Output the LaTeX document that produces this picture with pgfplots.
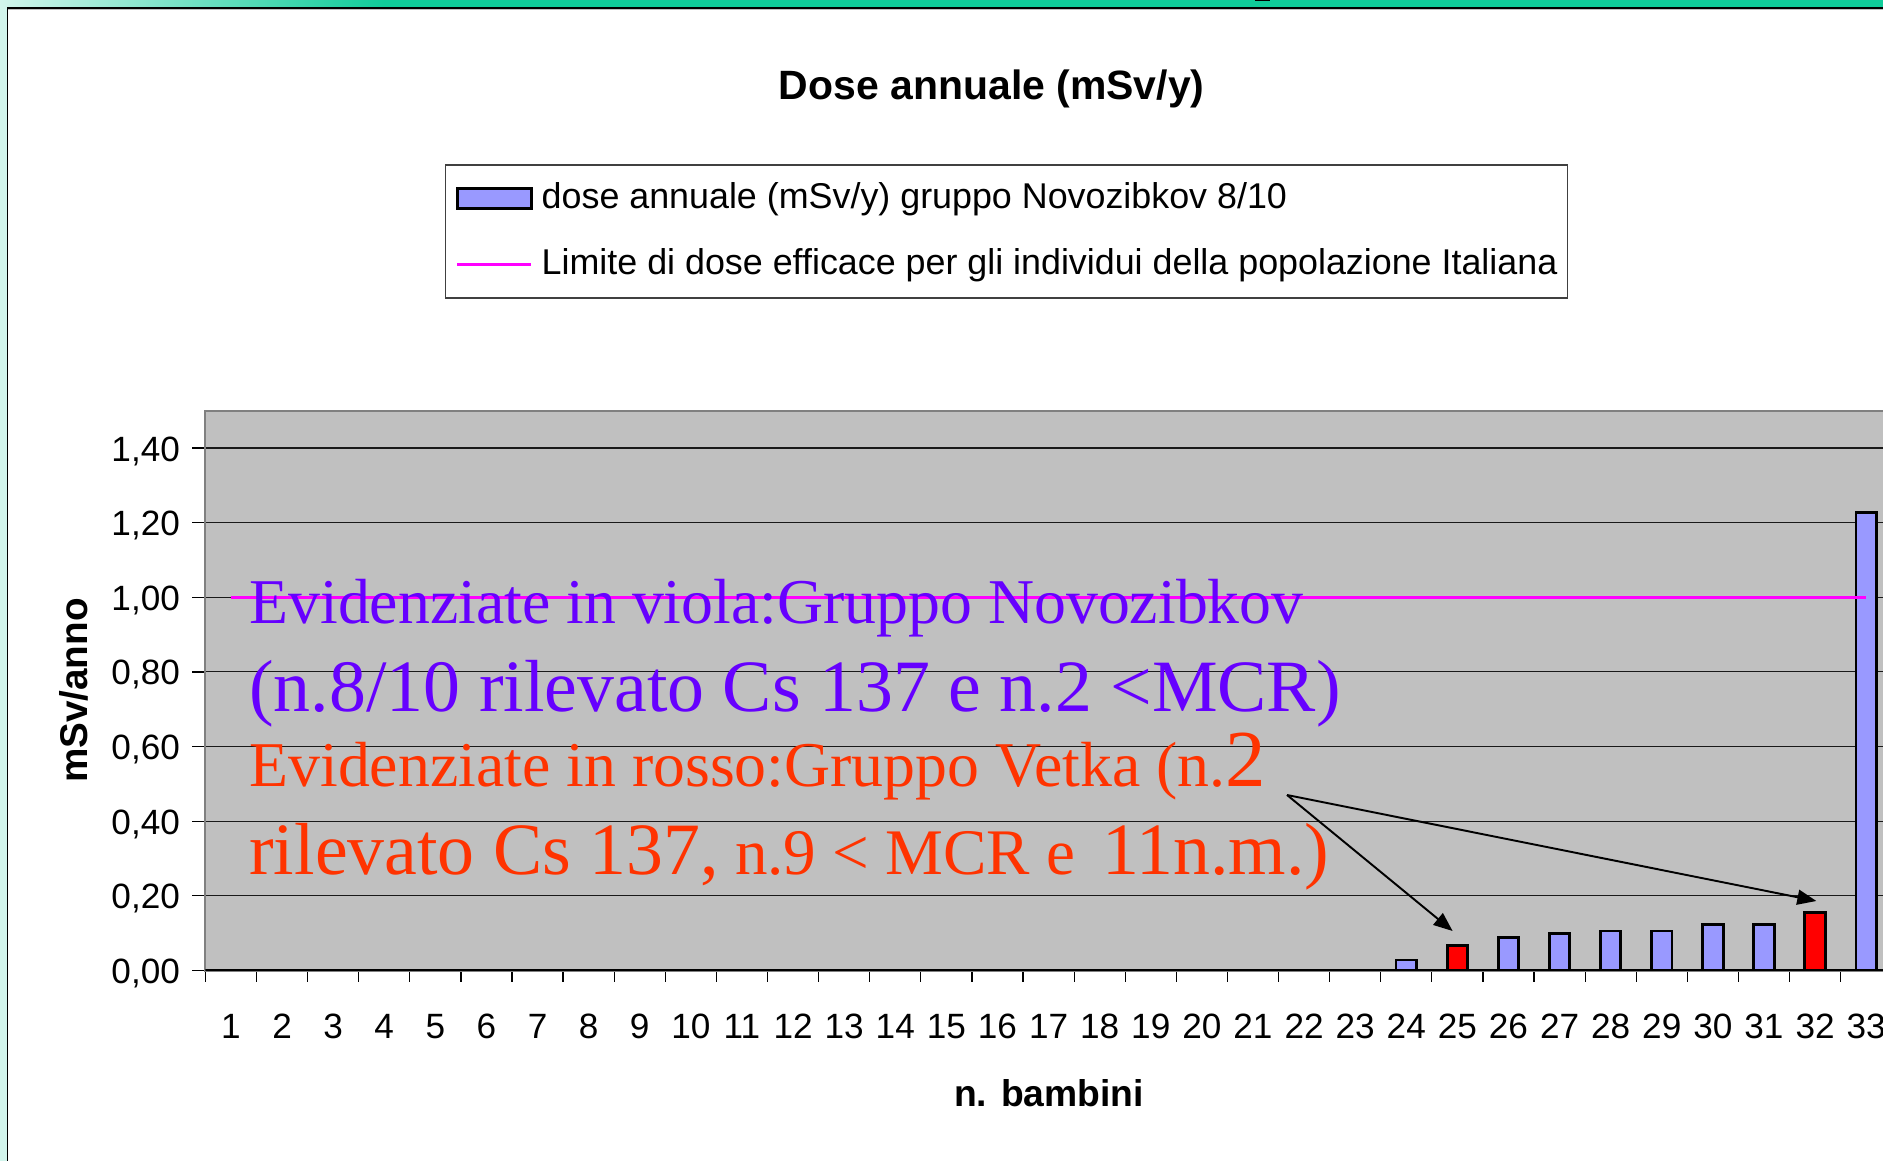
\documentclass[border=0pt]{standalone}
\usepackage{pgfplots}
\pgfplotsset{compat=1.18}
\usepackage{fontspec}
\setmainfont{Liberation Sans}
\newfontfamily\tnr{Liberation Serif}
\usetikzlibrary{arrows.meta}

\definecolor{plotgray}{HTML}{C0C0C0}
\definecolor{bordergray}{HTML}{808080}
\definecolor{barblue}{HTML}{9999FF}
\definecolor{barred}{HTML}{FF0000}
\definecolor{limitline}{HTML}{FF00FF}
\definecolor{viola}{HTML}{6600FF}
\definecolor{rosso}{HTML}{FF3300}
\definecolor{slideteal}{HTML}{10CC9A}
\definecolor{slidemint}{HTML}{D2F5EC}

\pgfplotsset{
    bar legend img/.style={legend image code/.code={\draw[##1] (0cm,-0.1cm) rectangle (0.74cm,0.1cm);}},
    line legend img/.style={legend image code/.code={\draw[##1] (0cm,0cm) -- (0.74cm,0cm);}},
}

\begin{document}
\begin{tikzpicture}
\fill[white] (0,0) rectangle (18.83,11.61);
\pgfinterruptboundingbox
\begin{scope}
\clip (0,0) rectangle (18.83,11.61);
% slide frame
\shade[left color=slidemint, right color=slideteal] (0,11.537) rectangle (3.84,11.61);
\fill[slideteal] (3.84,11.537) rectangle (18.83,11.61);
\fill[black] (12.55,11.595) rectangle (12.70,11.61);
\fill[black] (0.07,11.522) rectangle (18.83,11.537);
\fill[black!25] (0.08,11.505) rectangle (18.83,11.515);
\fill[slidemint] (0,0) rectangle (0.067,11.537);
\fill[black] (0.067,0) rectangle (0.083,11.537);

\begin{axis}[
    at={(2.054cm,1.905cm)}, anchor=south west,
    scale only axis,
    width=16.863cm, height=5.598cm,
    xmin=0.5, xmax=33.5,
    ymin=0, ymax=1.5,
    axis background/.style={fill=plotgray},
    axis line style={draw=bordergray, line width=0.6pt},
    tick pos=left, tick align=outside,
    xtick={1,...,33},
    major x tick style={draw=none},
    minor xtick={0.5,1.5,...,33.5},
    minor x tick style={black, line width=0.35pt},
    minor tick length=0.11cm,
    ytick={0,0.2,0.4,0.6,0.8,1.0,1.2,1.4},
    major y tick style={black, line width=0.35pt},
    major tick length=0.13cm,
    ymajorgrids=true,
    major grid style={black!90, line width=0.3pt},
    scaled y ticks=false,
    /pgf/number format/assume math mode=true,
    yticklabel style={/pgf/number format/fixed, /pgf/number format/fixed zerofill,
        /pgf/number format/precision=2, /pgf/number format/use comma,
        anchor=base east, inner sep=0pt, xshift=-0.118cm, yshift=-0.13cm,
        font=\fontsize{10}{12}\selectfont},
    xticklabel style={anchor=base, inner sep=0pt, yshift=-0.551cm,
        font=\fontsize{10}{12}\selectfont},
    title={Dose annuale (mSv/y)},
    title style={at={(axis description cs:0.4663,1.5183)}, anchor=base, inner sep=0pt,
        font=\bfseries\fontsize{11.65}{14}\selectfont},
    xlabel={n. bambini},
    xlabel style={at={(axis description cs:0.5003,-0.2433)}, anchor=base, inner sep=0pt,
        font=\bfseries\fontsize{10.6}{12}\selectfont},
    ylabel={mSv/anno},
    ylabel style={at={(axis description cs:-0.0702,0.5)}, anchor=base, inner sep=0pt,
        font=\bfseries\fontsize{11}{13}\selectfont},
    legend style={
        at={(0.1421,1.4398)}, anchor=north west,
        draw=black!75, line width=0.4pt,
        font=\fontsize{10.2}{12}\selectfont,
        inner xsep=0.1cm, inner ysep=0.17cm,
        row sep=0.33cm, column sep=0.09cm,
        nodes={inner xsep=0pt, inner ysep=0pt, text height=0.26cm, text depth=0.07cm},
    },
    legend cell align=left,
]
% gruppo Novozibkov
\addplot[ybar, bar width=0.4, bar shift=0pt, fill=barblue, draw=black, line width=0.8pt,
    bar legend img]
    coordinates {
    (24,0.028) (26,0.089) (27,0.099) (28,0.106) (29,0.106)
    (30,0.124) (31,0.124) (33,1.227)
};
\addlegendentry{dose annuale (mSv/y) gruppo Novozibkov 8/10}
% gruppo Vetka
\addplot[ybar, bar width=0.4, bar shift=0pt, fill=barred, draw=black, line width=0.8pt, forget plot]
    coordinates {(25,0.066) (32,0.156)};
% limite di dose
\addplot[limitline, line width=0.85pt, sharp plot, line legend img]
    coordinates {(1,1) (33,1)};
\addlegendentry{Limite di dose efficace per gli individui della popolazione Italiana}
\draw[black, line width=0.6pt] (rel axis cs:0,0) -- (rel axis cs:1,0);
\end{axis}

% annotations
\draw[black, line width=0.55pt, -{Triangle[length=0.19cm, width=0.15cm]}] (12.87,3.66) -- (14.526,2.30);
\draw[black, line width=0.55pt, -{Triangle[length=0.19cm, width=0.15cm]}] (12.87,3.66) -- (18.163,2.60);
\node[anchor=base west, inner sep=0pt, text=viola, font=\tnr\fontsize{18.15}{20}\selectfont]
    at (2.487,5.37) {Evidenziate in viola:Gruppo Novozibkov};
\node[anchor=base west, inner sep=0pt, text=viola, font=\tnr\fontsize{21}{24}\selectfont]
    at (2.487,4.493) {(n.8/10 rilevato Cs 137 e n.2 <MCR)};
\node[anchor=base west, inner sep=0pt, text=rosso, font=\tnr\fontsize{18.15}{20}\selectfont]
    at (2.487,3.743) {Evidenziate in rosso:Gruppo Vetka (n.{\fontsize{23}{26}\selectfont 2}};
\node[anchor=base west, inner sep=0pt, text=rosso, font=\tnr\fontsize{21}{24}\selectfont]
    at (2.487,2.86) {rilevato Cs 137,{\fontsize{18.5}{20}\selectfont{} n.9 < MCR e }\hspace{0.11cm}11n.m.)};
\end{scope}
\endpgfinterruptboundingbox
\end{tikzpicture}
\end{document}
